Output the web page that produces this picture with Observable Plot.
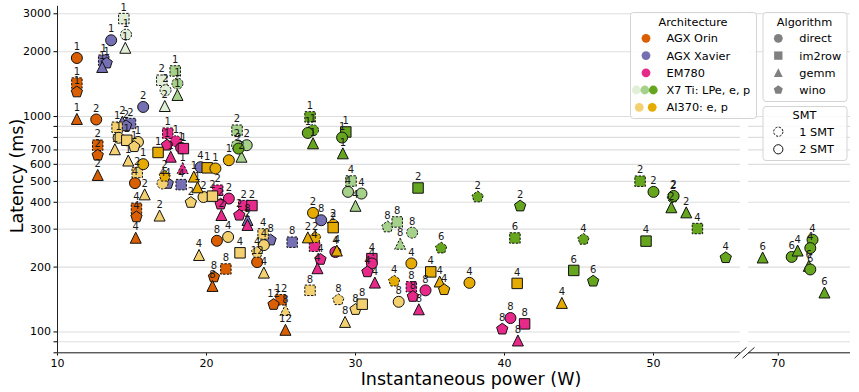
<!DOCTYPE html>
<html><head><meta charset="utf-8">
<script src="https://cdn.jsdelivr.net/npm/d3@7"></script>
<script src="https://cdn.jsdelivr.net/npm/@observablehq/plot@0.6"></script>
<style>
html,body{margin:0;padding:0;background:#fff;}
#wrap{position:relative;width:859px;height:392px;font-family:"DejaVu Sans",sans-serif;color:#000;}
#wrap svg{display:block;}
.ttl{position:absolute;font-size:17.5px;white-space:nowrap;line-height:1;}
</style></head>
<body><div id="wrap"></div>
<script>
// ---------- data: [power W, latency ms, threads, algorithm, SMT] ----------
const orin = [
[11.3,1870,1,"direct",2],[11.3,1430,1,"im2row",1],[11.3,1300,1,"wino",2],[11.3,972,1,"gemm",2],
[12.6,969,2,"direct",2],[12.7,736,2,"im2row",1],[12.7,661,2,"wino",2],[12.7,534,2,"gemm",2],
[15.2,491,4,"direct",2],[15.3,375,4,"im2row",1],[15.3,342,4,"wino",2],[15.25,273,4,"gemm",2],
[20.7,265,8,"direct",2],[21.3,196,8,"im2row",1],[20.5,180,8,"wino",2],[20.4,163,8,"gemm",2],
[23.4,211,12,"direct",2],[24.5,134,12,"wino",2],[25.0,141,12,"im2row",1],[25.3,102,12,"gemm",2]
];
const xavier = [
[13.6,2260,1,"direct",2],[13.1,1826,1,"im2row",1],[13.3,1770,1,"wino",2],[13.0,1694,1,"gemm",2],
[15.75,1108,2,"direct",2],[14.35,944,2,"gemm",2],[14.9,928,2,"im2row",1],[14.6,905,2,"wino",2],
[19.6,582,4,"direct",2],[18.3,483,4,"im2row",1],[17.4,489,4,"wino",2],
[24.3,267,8,"wino",2],[25.75,261,8,"im2row",1],[27.7,330,8,"direct",2],[22.75,330,8,"gemm",2]
];
const em780 = [
[17.4,837,1,"im2row",1],[17.35,736,1,"wino",2],[17.95,768,1,"direct",1],[18.3,715,1,"direct",2],
[18.45,710,1,"im2row",2],[17.6,649,1,"gemm",2],[18.4,575,1,"gemm",1],
[20.75,455,2,"im2row",1],[21.5,416,2,"direct",2],[20.95,392,2,"wino",2],[21.0,348,2,"gemm",2],
[22.5,386,2,"im2row",1],[23.05,386,2,"im2row",2],[22.2,348,2,"wino",2],[22.75,313,2,"gemm",2],
[27.25,250,4,"im2row",1],[27.65,217,4,"wino",2],[27.45,197,4,"gemm",2],[28.65,235,4,"direct",2],
[31.1,219,4,"im2row",2],[31.1,208,4,"direct",2],[30.8,190,4,"wino",2],[31.3,169,4,"gemm",2],
[33.75,162,8,"im2row",1],[33.85,146,8,"wino",2],[34.7,156,8,"direct",2],[34.25,127,8,"gemm",2],
[40.4,116,8,"direct",2],[39.85,103,8,"wino",2],[41.35,109,8,"im2row",2],[40.9,91,8,"gemm",2]
];
const x7LPe = [
[14.45,2850,1,"im2row",1],[14.6,2400,1,"direct",1],[14.55,2080,1,"gemm",2],
[17.0,1474,2,"im2row",1],[17.25,1325,2,"direct",1],[17.2,1116,2,"gemm",2]
];
const x7e = [
[17.9,1628,1,"im2row",1],[18.05,1423,1,"direct",1],[18.05,1256,1,"gemm",2],
[22.05,864,2,"im2row",1],[22.05,736,2,"direct",1],[22.7,736,2,"direct",2],[22.35,649,2,"gemm",2],
[29.7,502,4,"im2row",1],[29.5,447,4,"direct",2],[30.4,439,4,"direct",2],[30.0,384,4,"gemm",2],
[32.15,307,8,"wino",1],[32.8,324,8,"im2row",1],[33.8,289,8,"direct",1],[33.0,256,8,"gemm",1]
];
const x7p = [
[26.95,996,1,"im2row",1],[26.8,839,1,"direct",2],[27.15,864,1,"direct",1],[27.15,749,1,"gemm",2],
[29.35,848,1,"im2row",2],[29.1,799,1,"direct",2],[29.15,673,1,"gemm",2],
[22.15,710,2,"direct",2],[34.2,466,2,"im2row",2],[38.2,423,2,"wino",1],[41.05,384,2,"wino",2],
[40.7,273,6,"im2row",1],[35.75,245,6,"wino",1],[44.65,193,6,"im2row",2],
[49.1,501,2,"im2row",1],[50.0,447,2,"direct",2],[51.3,423,2,"direct",1],[51.35,428,2,"direct",2],
[51.2,378,2,"gemm",2],[52.2,358,2,"gemm",2],[52.95,302,4,"im2row",1],[49.5,264,4,"im2row",2],
[45.3,269,4,"wino",1],[45.95,172,6,"wino",2],[54.85,221,4,"wino",2],
[68.95,221,6,"gemm",2],[70.9,223,6,"direct",2],[71.3,238,4,"gemm",2],[72.3,268,4,"direct",2],
[72.15,245,4,"direct",2],[72.05,202,6,"gemm",2],[72.15,195,6,"direct",2],[73.1,152,6,"gemm",2]
];
const ai370e = [
[14.0,892,1,"im2row",1],[14.1,797,1,"direct",2],[14.65,776,1,"im2row",2],[15.4,762,1,"direct",2],
[15.15,724,1,"wino",2],[13.85,703,1,"gemm",2],[14.75,623,1,"gemm",2],
[15.35,550,2,"im2row",1],[15.85,434,2,"gemm",2],[16.85,346,2,"gemm",2],[17.05,489,4,"direct",1],
[18.95,399,2,"wino",2],[19.8,423,2,"direct",2],[20.4,427,2,"im2row",2],
[21.45,276,4,"direct",2],[22.25,233,4,"im2row",2],[19.5,227,4,"gemm",2],[23.8,285,4,"im2row",1],
[23.85,253,4,"direct",2],[23.4,234,4,"wino",1],[23.85,188,4,"gemm",2],
[26.95,156,8,"im2row",1],[28.85,141,8,"wino",1],[30.0,127,8,"wino",2],[30.45,134.5,8,"im2row",2],
[29.3,111,8,"gemm",2],[25.3,126,8,"gemm",1],[32.9,138,8,"direct",2]
];
const ai370p = [
[16.75,681,1,"im2row",2],[15.75,601,1,"direct",2],[21.5,627,1,"direct",2],[20.05,578,1,"im2row",2],
[20.6,574,1,"direct",2],[19.15,525,1,"gemm",2],[19.4,468,1,"gemm",2],[17.2,528,2,"wino",1],
[27.15,357,2,"direct",2],[28.5,305,2,"im2row",2],[28.5,316,2,"wino",1],[26.8,274,2,"gemm",2],
[27.3,274,2,"wino",1],[28.75,238,4,"gemm",2],[33.75,208,4,"direct",2],[35.05,190,4,"im2row",2],
[35.65,171,4,"gemm",2],[35.95,157,4,"wino",2],[32.6,172,4,"wino",1],[37.65,169,4,"direct",2],
[40.85,168,4,"im2row",2],[43.85,136,4,"gemm",2]
];

// axes
const xDomain = [10, 55.84, 68, 74.85];      // broken x axis: left panel, right panel
const xTicks = [10, 20, 30, 40, 50, 70];
const yDomain = [80, 3250];
const yTicks = [80, 90, 100, 200, 300, 400, 500, 600, 700, 800, 900, 1000, 2000, 3000];

// legend entries
const archNames = ["AGX Orin", "AGX Xavier", "EM780", "X7 Ti: LPe, e, p", "AI370: e, p"];
const algNames = ["direct", "im2row", "gemm", "wino"];
const smtNames = ["1 SMT", "2 SMT"];

// ---------- styling ----------
const colOrin = "#d95f02", colXavier = "#7570b3", colEM = "#e7298a";
const colX7 = ["#e2efd8", "#a6d18b", "#66a61e"];
const colAI = ["#f4d170", "#e6ab02"];
const archColors = [[colOrin], [colXavier], [colEM], colX7, colAI];

const symCircle = {draw(c, s){ const r = Math.sqrt(s/Math.PI); c.moveTo(r,0); c.arc(0,0,r,0,2*Math.PI); }};
const symSquare = {draw(c, s){ const r = Math.sqrt(s/Math.PI)*0.95; c.rect(-r,-r,2*r,2*r); }};
const symTri = {draw(c, s){ const r = Math.sqrt(s/Math.PI); c.moveTo(0,-r*1.05); c.lineTo(r,r*0.95); c.lineTo(-r,r*0.95); c.closePath(); }};
const symPent = {draw(c, s){ const r = Math.sqrt(s/Math.PI)*1.08;
  for (let i = 0; i < 5; i++){ const a = -Math.PI/2 + i*2*Math.PI/5; const px = r*Math.cos(a), py = r*Math.sin(a); i ? c.lineTo(px,py) : c.moveTo(px,py); }
  c.closePath(); }};
const symSlash = {draw(c, s){ const r = Math.sqrt(s/Math.PI); c.moveTo(-r, r*0.9); c.lineTo(r, -r*0.9); }};
const symbols = {direct: symCircle, im2row: symSquare, gemm: symTri, wino: symPent};

function rows(arr, color){ return arr.map(([W, ms, t, alg, smt]) => ({W, ms, t, alg, smt, color})); }
const series = [
  rows(orin, colOrin), rows(xavier, colXavier), rows(em780, colEM),
  rows(x7LPe, colX7[0]), rows(x7e, colX7[1]), rows(x7p, colX7[2]),
  rows(ai370e, colAI[0]), rows(ai370p, colAI[1])
];
const all = series.flat();

const gridStroke = "#dedede";
const marks = [
  Plot.ruleY(yTicks, {x1: xDomain[0], x2: xDomain[1], stroke: gridStroke, strokeWidth: 1.1}),
  Plot.ruleY(yTicks, {x1: xDomain[2], x2: xDomain[3], stroke: gridStroke, strokeWidth: 1.1}),
  Plot.ruleX([xDomain[0]], {y1: yDomain[0], y2: yDomain[1], stroke: "#222", strokeWidth: 1}),
  Plot.ruleY([yDomain[0]], {x1: xDomain[0], x2: xDomain[1], stroke: "#222", strokeWidth: 1}),
  Plot.ruleY([yDomain[0]], {x1: xDomain[2], x2: xDomain[3], stroke: "#222", strokeWidth: 1}),
  Plot.dot([xDomain[1], xDomain[2]], {x: d => d, y: yDomain[0], symbol: symSlash, r: 6, fill: "none", stroke: "#222", strokeWidth: 1})
];
for (const s of series) {
  for (const smt of [1, 2]) {
    const opts = {x: "W", y: "ms", r: 5.5, fill: "color", symbol: d => symbols[d.alg], stroke: "#111", strokeWidth: 1};
    if (smt === 1) opts.strokeDasharray = "2.4,1.4";
    marks.push(Plot.dot(s.filter(d => d.smt === smt), opts));
  }
}
marks.push(Plot.text(all, {x: "W", y: "ms", text: d => String(d.t), dy: -11, fontSize: 10, fill: "#1a1a1a"}));

const chart = Plot.plot({
  width: 859, height: 392,
  marginLeft: 57, marginRight: 9, marginTop: 6, marginBottom: 40,
  style: {fontFamily: "DejaVu Sans, sans-serif", fontSize: "11px", background: "white", color: "black"},
  x: {type: "linear", domain: xDomain, range: [57, 740, 748, 850], ticks: xTicks, tickSize: 3.5, tickPadding: 3, tickFormat: d => String(d), label: null},
  y: {type: "log", domain: yDomain, range: [352.3, 5.8], ticks: yTicks, tickSize: 3.5, tickPadding: 3, tickFormat: d => String(d), label: null},
  color: {type: "identity"},
  symbol: {type: "identity"},
  marks
});
const wrap = document.getElementById("wrap");
wrap.appendChild(chart);

// axis titles
const xt = document.createElement("div"); xt.className = "ttl"; xt.textContent = "Instantaneous power (W)";
xt.style.cssText = "left:471px;top:380px;transform:translate(-50%,-50%)"; wrap.appendChild(xt);
const yt = document.createElement("div"); yt.className = "ttl"; yt.textContent = "Latency (ms)";
yt.style.cssText = "left:18px;top:176px;transform:translate(-50%,-50%) rotate(-90deg)"; wrap.appendChild(yt);

// legends (overlay)
const leg = d3.select(wrap).append("svg").attr("width", 859).attr("height", 392)
  .style("position", "absolute").style("left", "0px").style("top", "0px")
  .style("font-family", "DejaVu Sans, sans-serif").style("font-size", "11.3px");
function box(x, y, w, h){ leg.append("rect").attr("x", x+0.5).attr("y", y+0.5).attr("width", w).attr("height", h).attr("rx", 3)
  .attr("fill", "rgba(255,255,255,0.85)").attr("stroke", "#d4d4d4").attr("stroke-width", 1); }
function txt(x, y, s, anchor){ leg.append("text").attr("x", x).attr("y", y).attr("dy", "0.35em").attr("text-anchor", anchor || "start").attr("fill", "#000").text(s); }
const rowY = [38.3, 55.6, 72.8, 90.0, 107.3];
box(630, 12, 126, 106);
txt(693, 21.7, "Architecture", "middle");
archNames.forEach((n, i) => {
  const cs = archColors[i];
  const xs = cs.length === 1 ? [646] : cs.length === 3 ? [636.3, 644.8, 653.3] : [639.2, 652.2];
  cs.forEach((c, j) => leg.append("circle").attr("cx", xs[j]).attr("cy", rowY[i]).attr("r", 4.4).attr("fill", c));
  txt(666.5, rowY[i], n);
});
box(762.5, 12, 84, 89);
txt(804.5, 21.7, "Algorithm", "middle");
algNames.forEach((n, i) => {
  leg.append("path").attr("transform", `translate(778.3,${rowY[i]})`).attr("d", d3.symbol(symbols[n], Math.PI*4.4*4.4)()).attr("fill", "#808080");
  txt(799.3, rowY[i], n);
});
box(762.5, 106, 84, 54);
txt(804.5, 115, "SMT", "middle");
smtNames.forEach((n, i) => {
  const cy = [131.7, 149.3][i];
  const c = leg.append("circle").attr("cx", 778.3).attr("cy", cy).attr("r", 4.6).attr("fill", "white").attr("stroke", "#111").attr("stroke-width", 1);
  if (i === 0) c.attr("stroke-dasharray", "2.2,1.4");
  txt(799.3, cy, n);
});
</script></body></html>
